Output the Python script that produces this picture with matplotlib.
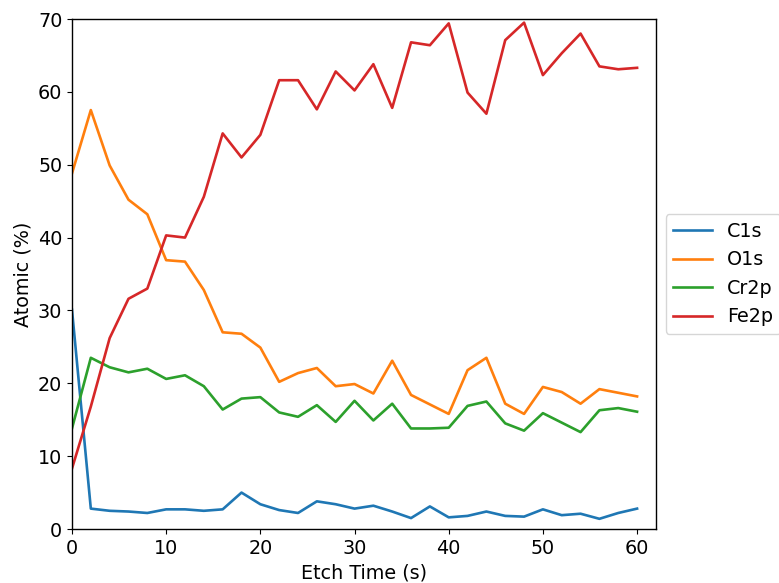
import numpy as np
import matplotlib
matplotlib.use("Agg")
import matplotlib.pyplot as plt

# etch time steps (s)
etch_time = list(range(0, 62, 2))

c1s = [30.1, 2.8, 2.5, 2.4, 2.2, 2.7, 2.7, 2.5, 2.7, 5.0,
       3.4, 2.6, 2.2, 3.8, 3.4, 2.8, 3.2, 2.4, 1.5, 3.1,
       1.6, 1.8, 2.4, 1.8, 1.7, 2.7, 1.9, 2.1, 1.4, 2.2, 2.8]
o1s = [48.8, 57.5, 49.9, 45.2, 43.2, 36.9, 36.7, 32.8, 27.0, 26.8,
       24.9, 20.2, 21.4, 22.1, 19.6, 19.9, 18.6, 23.1, 18.4, 17.1,
       15.8, 21.8, 23.5, 17.2, 15.8, 19.5, 18.8, 17.2, 19.2, 18.7, 18.2]
cr2p = [13.8, 23.5, 22.2, 21.5, 22.0, 20.6, 21.1, 19.6, 16.4, 17.9,
        18.1, 16.0, 15.4, 17.0, 14.7, 17.6, 14.9, 17.2, 13.8, 13.8,
        13.9, 16.9, 17.5, 14.5, 13.5, 15.9, 14.6, 13.3, 16.3, 16.6, 16.1]
fe2p = [8.3, 16.8, 26.2, 31.6, 33.0, 40.3, 40.0, 45.6, 54.3, 51.0,
        54.1, 61.6, 61.6, 57.6, 62.8, 60.2, 63.8, 57.8, 66.8, 66.4,
        69.4, 59.9, 57.0, 67.1, 69.5, 62.3, 65.3, 68.0, 63.5, 63.1, 63.3]

plt.rcParams["font.size"] = 13.8
plt.rcParams["axes.linewidth"] = 1.0

fig = plt.figure(figsize=(7.79, 5.83), dpi=100)
ax = fig.add_axes([0.0924, 0.0926, 0.7496, 0.8748])

for vals, name in [(c1s, "C1s"), (o1s, "O1s"), (cr2p, "Cr2p"), (fe2p, "Fe2p")]:
    ax.plot(etch_time, vals, label=name, linewidth=1.9)

ax.set_xlim(0, 62)
ax.set_ylim(0, 70)
ax.set_xlabel("Etch Time (s)")
ax.set_ylabel("Atomic (%)")
ax.legend(loc="center left", bbox_to_anchor=(1.0, 0.5))

fig.savefig("out.png", dpi=100)
